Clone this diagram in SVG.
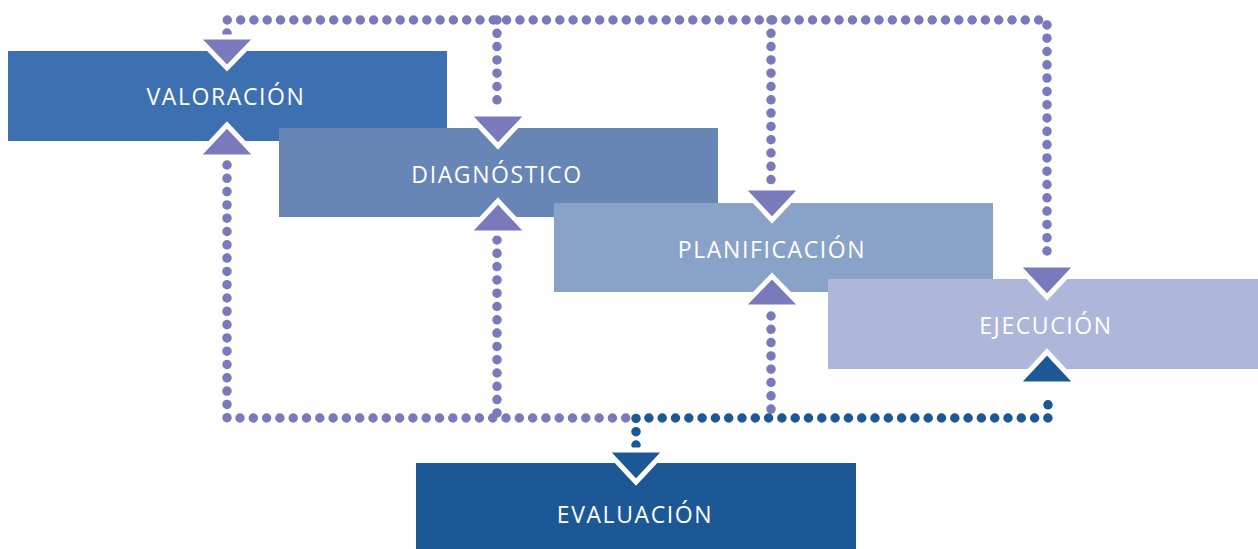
<svg xmlns="http://www.w3.org/2000/svg" width="1258" height="549" viewBox="0 0 1258 549">
<style>
.lbl{font-family:"Open Sans","Liberation Sans",sans-serif;font-size:23px;font-weight:500;fill:#fff;text-anchor:middle;letter-spacing:1.6px}
.dp{fill:none;stroke:#7a79bb;stroke-width:9.5;stroke-linecap:round;stroke-dasharray:0 13.3}
.db{fill:none;stroke:#1c5896;stroke-width:9.5;stroke-linecap:round;stroke-dasharray:0 13.3}
.tp{fill:#7a79bb;stroke:#fff;stroke-width:5}
.tb{fill:#1c5896;stroke:#fff;stroke-width:5}
</style>
<rect width="1258" height="549" fill="#fff"/>
<g id="connectors">
<path class="dp" d="M227 33 V20 H1047 V256"/>
<path class="dp" d="M497 20 V108"/>
<path class="dp" d="M771 20 V182"/>
<path class="dp" d="M227 165 V418 H630"/>
<path class="dp" d="M497 240 V418"/>
<path class="dp" d="M771 316 V418"/>
<path class="db" d="M636 445 V418 H1048 V392"/>
</g>
<g id="valoracion">
<rect x="8" y="51" width="439" height="90" fill="#3d70b0"/>
<text class="lbl" x="226" y="105">VALORACIÓN</text>
</g>
<g id="diagnostico">
<rect x="279" y="128" width="439" height="89" fill="#6786b5"/>
<text class="lbl" x="497" y="183">DIAGNÓSTICO</text>
</g>
<g id="planificacion">
<rect x="554" y="203" width="439" height="89" fill="#89a3c8"/>
<text class="lbl" x="772" y="258">PLANIFICACIÓN</text>
</g>
<g id="ejecucion">
<rect x="828" y="279" width="430" height="90" fill="#aeb7da"/>
<text class="lbl" x="1046" y="334">EJECUCIÓN</text>
</g>
<g id="evaluacion">
<rect x="416" y="463" width="440" height="86" fill="#1c5896"/>
<text class="lbl" x="635" y="523">EVALUACIÓN</text>
</g>
<g id="arrowheads">
<polygon class="tp" points="197,37 257,37 227,68"/>
<polygon class="tp" points="197,157 257,157 227,125"/>
<polygon class="tp" points="468,114 528,114 498,146"/>
<polygon class="tp" points="468,233 528,233 498,201"/>
<polygon class="tp" points="742,188 802,188 772,220"/>
<polygon class="tp" points="742,307 802,307 772,276"/>
<polygon class="tp" points="1017,265 1077,265 1047,297"/>
<polygon class="tb" points="1017,384 1077,384 1047,352"/>
<polygon class="tb" points="606,450 666,450 636,482"/>
</g>
</svg>
